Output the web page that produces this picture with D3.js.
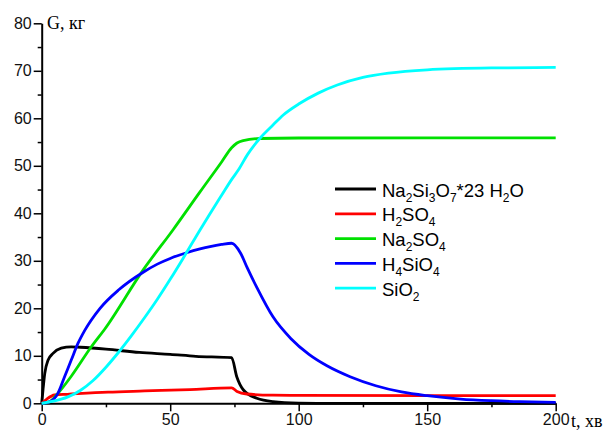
<!DOCTYPE html>
<html>
<head>
<meta charset="utf-8">
<script src="https://cdn.jsdelivr.net/npm/d3@7"></script>
<style>
  body { margin: 0; background: #fff; }
  text { font-family: Arial, "Liberation Sans", sans-serif; }
</style>
</head>
<body>
<svg width="606" height="430"></svg>
<script>
// series names (legend), {n} = subscript
const seriesNames = ["Na{2}Si{3}O{7}*23 H{2}O", "H{2}SO{4}", "Na{2}SO{4}", "H{4}SiO{4}", "SiO{2}"];
const seriesColors = ["#000000", "#ff0000", "#00e000", "#0000ff", "#00ffff"];

// [t, G]
const naSilicate = [[0,0],[0.5,2.8],[1.2,6.3],[2.5,9.1],[4.4,10.5],[7.6,11.6],[11.5,11.9],[15,11.8],
  [25,11.4],[38,10.7],[50,10.3],[60,9.9],[73.9,9.6],[75.9,5.6],[78.5,2.8],[83.7,1.05],[90,0.34],
  [100,0.05],[110,0],[200,0]];
const h2so4 = [[0,0],[2,0.9],[5,1.75],[10,1.9],[25.8,2.35],[40,2.6],[57.7,2.9],[73.9,3.25],[76,2.5],
  [79.8,1.96],[90,1.7],[100,1.65],[200,1.6]];
const na2so4 = [[0,0],[3,0.3],[6,1.9],[11.5,5.7],[19.3,11.9],[24.5,15.6],[39.5,28.1],[51.2,36.6],
  [61.6,44.5],[70,50.8],[73.9,53.8],[76,54.8],[78.4,55.3],[84.9,55.75],[100,55.85],[200,55.9]];
const h4sio4 = [[0,0],[3,0.3],[6.3,2.1],[8.9,5.6],[11.5,9.1],[14.1,12.6],[16.7,15.3],[22.7,20],
  [30,23.9],[39.5,27.6],[45,29.3],[50,30.5],[56.4,31.7],[61.6,32.5],[65.5,33],[70,33.45],[73.9,33.7],
  [77.4,31.6],[80,28.5],[83.7,24.4],[90,18.2],[97,13.6],[104,10.3],[111,7.9],[120,5.6],[130,3.7],
  [140,2.4],[150,1.6],[163,0.9],[175,0.55],[186,0.35],[200,0.2]];
const sio2 = [[0,0],[5,0.5],[10,1.3],[15,2.7],[20,4.8],[25,7.6],[30,10.8],[35,14.3],[40,18],
  [45,21.9],[50,26.1],[55,30.5],[61.6,36.5],[65,39.5],[70,43.8],[74,47.2],[76.5,49.1],[80,52.3],[84.9,55.8],
  [90,58.6],[94,60.7],[100,63],[107.6,65.3],[115,67],[125,68.6],[135,69.5],[150,70.2],[175,70.6],[200,70.7]];

const allSeries = [naSilicate, h2so4, na2so4, h4sio4, sio2];

const xTicks = [0, 50, 100, 150, 200];
const xMinor = [25, 75, 125, 175];
const yTicks = [0, 10, 20, 30, 40, 50, 60, 70, 80];
const yMinor = [5, 15, 25, 35, 45, 55, 65, 75];

const svg = d3.select("svg");

const x = d3.scaleLinear().domain([0, 200]).range([41.7, 555.7]);
const y = d3.scaleLinear().domain([0, 80]).range([403.3, 23.3]);

// axes
const xAxis = svg.append("g").attr("transform", `translate(0,${y(0)})`)
  .call(d3.axisBottom(x).tickValues(xTicks).tickSize(8).tickSizeOuter(0).tickPadding(2));
const xAxisMinor = svg.append("g").attr("transform", `translate(0,${y(0)})`)
  .call(d3.axisBottom(x).tickValues(xMinor).tickSize(4).tickFormat(""));
const yAxis = svg.append("g").attr("transform", `translate(${x(0)},0)`)
  .call(d3.axisLeft(y).tickValues(yTicks).tickSize(8).tickSizeOuter(0).tickPadding(2));
const yAxisMinor = svg.append("g").attr("transform", `translate(${x(0)},0)`)
  .call(d3.axisLeft(y).tickValues(yMinor).tickSize(4).tickFormat(""));

[xAxis, xAxisMinor, yAxis, yAxisMinor].forEach(g => {
  g.select(".domain").attr("stroke", "#000").attr("stroke-width", 2);
  g.selectAll(".tick line").attr("stroke", "#000").attr("stroke-width", 1.5);
  g.selectAll(".tick text").attr("fill", "#111").style("font-size", "16px")
    .style("font-family", "Arial, 'Liberation Sans', sans-serif");
});
xAxisMinor.select(".domain").remove();
yAxisMinor.select(".domain").remove();

// axis titles
svg.append("text").attr("x", 47).attr("y", 28.5)
  .style("font-family", "'Liberation Serif', 'Times New Roman', serif").style("font-size", "18px")
  .text("G, кг");
svg.append("text").attr("x", 571).attr("y", 426.5)
  .style("font-family", "'Liberation Serif', 'Times New Roman', serif").style("font-size", "18px")
  .text("t, хв");

// curves
const line = d3.line()
  .x(d => x(d[0]))
  .y(d => y(d[1]))
  .curve(d3.curveMonotoneX);

svg.append("g").selectAll("path").data(allSeries).enter().append("path")
  .attr("d", line)
  .attr("fill", "none")
  .attr("stroke", (d, i) => seriesColors[i])
  .attr("stroke-width", 2.8)
  .attr("stroke-linejoin", "round");

// legend
const legend = svg.append("g").attr("transform", "translate(335,189)");
const rows = legend.selectAll("g").data(seriesNames).enter().append("g")
  .attr("transform", (d, i) => `translate(0,${i * 24.8})`);
rows.append("line")
  .attr("x1", 0).attr("x2", 41).attr("y1", 0).attr("y2", 0)
  .attr("stroke", (d, i) => seriesColors[i]).attr("stroke-width", 2.8);
rows.append("text")
  .attr("x", 47).attr("y", 7.5)
  .style("font-size", "18.5px")
  .each(function(label) {
    const t = d3.select(this);
    const parts = label.split(/(\{\d+\})/).filter(s => s.length);
    let shifted = false;
    parts.forEach(p => {
      if (p[0] === "{") {
        t.append("tspan").attr("dy", 5).style("font-size", "12px").text(p.slice(1, -1));
        shifted = true;
      } else {
        t.append("tspan").attr("dy", shifted ? -5 : 0).text(p);
        shifted = false;
      }
    });
  });
</script>
</body>
</html>
